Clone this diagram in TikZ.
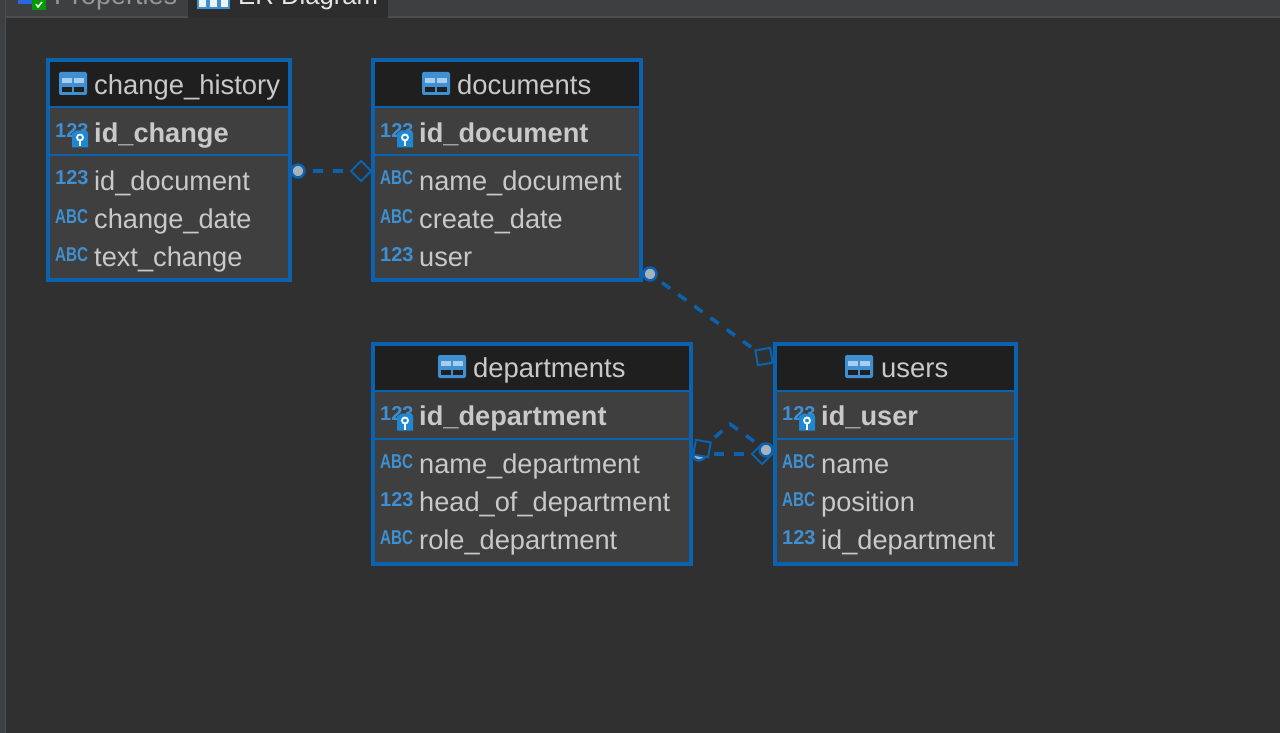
\documentclass[tikz,border=0pt]{standalone}
\usepackage{fontspec}
\setmainfont{Liberation Sans}
\usetikzlibrary{shapes.geometric}
\definecolor{canvas}{HTML}{303030}
\definecolor{chrome}{HTML}{3E3F41}
\definecolor{tabdark}{HTML}{2D2D2D}
\definecolor{tabline}{HTML}{4C4D4E}
\definecolor{rowbg}{HTML}{3F3F3F}
\definecolor{headbg}{HTML}{1F1F1F}
\definecolor{erblue}{HTML}{0B62AE}
\definecolor{iconblue}{HTML}{3F90D2}
\definecolor{keyblue}{HTML}{1E88D2}
\definecolor{ertext}{HTML}{C9C9C9}
\definecolor{dotfill}{HTML}{A9B1BC}
\tikzset{
  tablebox/.style={draw=erblue,line width=3.5pt,anchor=north west,inner sep=0pt,outer sep=0pt},
  titletext/.style={text=ertext,font=\fontsize{27.4}{27.4}\selectfont,anchor=base west,inner sep=0pt},
  keytext/.style={text=ertext,font=\fontsize{27.2}{27.2}\selectfont\bfseries,anchor=base west,inner sep=0pt},
  rowtext/.style={text=ertext,font=\fontsize{27.2}{27.2}\selectfont,anchor=base west,inner sep=0pt},
  numtype/.style={text=iconblue,font=\fontsize{20}{20}\selectfont\bfseries,anchor=base west,inner sep=0pt},
  abctype/.style={text=iconblue,font=\fontsize{20}{20}\selectfont\bfseries,anchor=base west,inner sep=0pt,xscale=0.76},
  relline/.style={draw=erblue,line width=3.5pt,dash pattern=on 10pt off 10pt,dash phase=13pt},
  srcdot/.style={circle,fill=dotfill,draw=erblue,line width=2.5pt,minimum size=13pt,inner sep=0pt},
  dstdiamond/.style={diamond,draw=erblue,line width=2pt,minimum size=21pt,inner sep=0pt,aspect=1},
  dstsquare/.style={rectangle,draw=erblue,line width=2pt,minimum size=15pt,inner sep=0pt},
}
\begin{document}
\begin{tikzpicture}[x=1pt,y=-1pt]
\useasboundingbox (0,0) rectangle (1280,733);
\clip (0,0) rectangle (1280,733);
\fill[canvas] (0,0) rectangle (1280,733);

% window chrome
\fill[chrome] (0,0) rectangle (5,733);
\fill[tabline] (5,16) rectangle (1280,18);
\fill[chrome] (5,0) rectangle (1280,16);
\fill[tabdark] (188,0) rectangle (388,18);
\fill[tabline] (5,0) rectangle (6,733);
\fill[iconblue!70!blue] (18,0) rectangle (32,4);
\fill[green!60!black] (32,0) rectangle (46,10);
\draw[white,line width=1.5pt] (36,4) -- (38,7) -- (42,2);
\fill[iconblue] (197,0) rectangle (230,9);
\foreach \i in {199,210,221}{
  \fill[white!90!iconblue] (\i,0) rectangle (\i+7,7);
}
\node[titletext,text=ertext!75!black,font=\fontsize{27}{27}\selectfont] (tabprops) at (54,5) {Properties};
\node[titletext,text=white!90!black,font=\fontsize{25.7}{25.7}\selectfont] (taber) at (238,5) {ER Diagram};

% tables
\foreach \id/\xa/\ya/\xb in {changehistory/48/60/290,documents/373/60/641,departments/373/344/691,users/775/344/1016}{
  \pgfmathsetmacro{\boxw}{\xb-\xa}
  \fill[rowbg] (\xa,\ya) rectangle (\xb,\ya+220);
  \fill[headbg] (\xa,\ya) rectangle (\xb,\ya+47);
  \draw[erblue,line width=2pt] (\xa,\ya+47) -- (\xb,\ya+47);
  \draw[erblue,line width=2pt] (\xa,\ya+95) -- (\xb,\ya+95);
  \node[tablebox,minimum width=\boxw pt,minimum height=220pt] (\id) at (\xa,\ya) {};
}

% table titles
\foreach \id/\x/\tx/\y/\name in {changehistory/59/94/94/change\_history,documents/422/457/94/documents,departments/438/473/377/departments,users/845/881/377/users}{
  \fill[iconblue,rounded corners=2pt] (\x,\y-22) rectangle (\x+28,\y+1);
  \fill[headbg] (\x+3,\y-7) rectangle (\x+13,\y-2);
  \fill[headbg] (\x+15,\y-7) rectangle (\x+25,\y-2);
  \fill[white!55!iconblue] (\x+3,\y-16) rectangle (\x+13,\y-11);
  \fill[white!55!iconblue] (\x+15,\y-16) rectangle (\x+25,\y-11);
  \node[titletext] (\id-title) at (\tx,\y+0.7) {\name};
}

% primary keys
\foreach \id/\x/\tx/\y/\name in {changehistory/55/94/142.5/id\_change,documents/380/419/142.5/id\_document,departments/380/419/425.5/id\_department,users/782/821/425.5/id\_user}{
  \node[numtype] (\id-pktype) at (\x,\y-5) {123};
  \fill[keyblue] (\x+17,\y-9) -- (\x+21,\y-12) -- (\x+29,\y-12) -- (\x+33,\y-9) -- (\x+33,\y+5) -- (\x+17,\y+5) -- cycle;
  \draw[white,line width=1.8pt] (\x+25,\y-5) circle (3pt);
  \draw[white,line width=2pt] (\x+25,\y-2) -- (\x+25,\y+4);
  \node[keytext] (\id-pk) at (\tx,\y) {\name};
}

% columns
\foreach \id/\n/\x/\tx/\y/\kind/\type/\name in {
  changehistory/a/55/94/190/numtype/123/id\_document,
  changehistory/b/55/94/228/abctype/ABC/change\_date,
  changehistory/c/55/94/266/abctype/ABC/text\_change,
  documents/a/380/419/190/abctype/ABC/name\_document,
  documents/b/380/419/228/abctype/ABC/create\_date,
  documents/c/380/419/266/numtype/123/user,
  departments/a/380/419/473/abctype/ABC/name\_department,
  departments/b/380/419/511/numtype/123/head\_of\_department,
  departments/c/380/419/549/abctype/ABC/role\_department,
  users/a/782/821/473/abctype/ABC/name,
  users/b/782/821/511/abctype/ABC/position,
  users/c/782/821/549/numtype/123/id\_department}{
  \node[\kind] (\id-\n-type) at (\x,\y-5) {\type};
  \node[rowtext] (\id-\n) at (\tx,\y) {\name};
}

% relations
\node[srcdot] (histsrc) at (298,171) {};
\node[dstdiamond] (histdst) at (361,171) {};
\draw[relline] (histsrc) -- (histdst);

\node[srcdot] (docsrc) at (650,274) {};
\node[dstsquare,rotate=10] (docdst) at (764,356.5) {};
\draw[relline] (docsrc) -- (docdst);

\node[srcdot] (deptsrc) at (699,454) {};
\node[dstdiamond] (deptdst) at (762,454) {};
\node[srcdot] (usersrc) at (766,450) {};
\node[dstsquare,rotate=-10,fill=canvas] (userdst) at (702,448.5) {};
\coordinate (bend) at (730,424);
\draw[relline] (deptsrc) -- (deptdst);
\draw[relline] (usersrc) -- (bend) -- (userdst);
\end{tikzpicture}
\end{document}
